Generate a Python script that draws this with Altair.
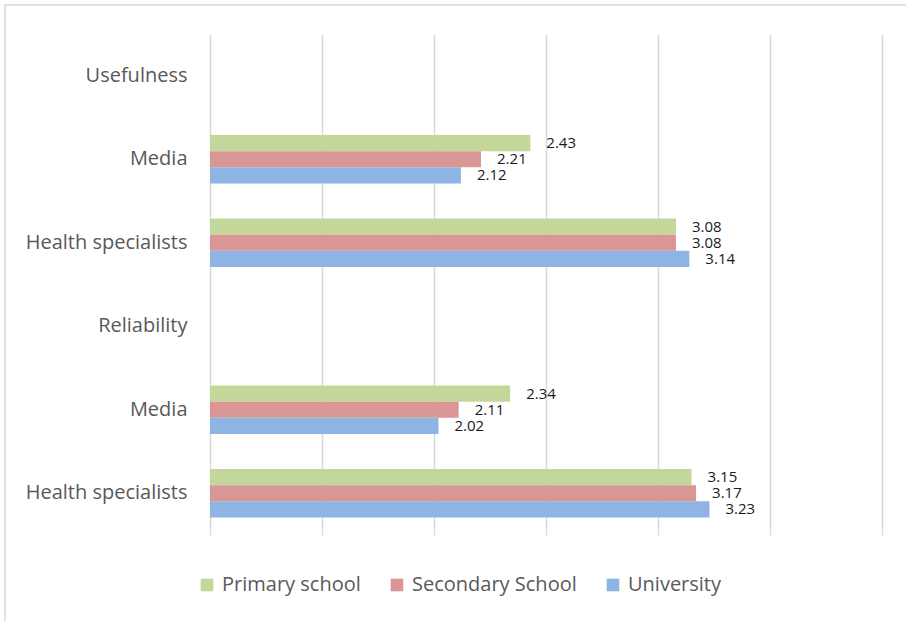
import altair as alt
import pandas as pd

# ---- data ----
row_keys = ["r0", "r1", "r2", "r3", "r4", "r5"]
row_labels = ["Usefulness", "Media", "Health specialists", "Reliability", "Media", "Health specialists"]
bar_rows = ["r1", "r2", "r4", "r5"]
series = ["Primary school", "Secondary School", "University"]
primary = [2.43, 3.08, 2.34, 3.15]
secondary = [2.21, 3.08, 2.11, 3.17]
university = [2.12, 3.14, 2.02, 3.23]
colors = ["#C4D79B", "#D99694", "#8EB4E3"]
grid_values = [1, 1.5, 2, 2.5, 3, 3.5, 4]

records = []
for vals, s in zip([primary, secondary, university], series):
    for r, v in zip(bar_rows, vals):
        records.append({"row": r, "series": s, "value": v})
df = pd.DataFrame(records)

# label expression mapping keys to display labels
expr = "''"
for k, lab in reversed(list(zip(row_keys, row_labels))):
    expr = f"datum.value == '{k}' ? '{lab}' : ({expr})"

FONT = "Open Sans"

y_enc = alt.Y(
    "row:N",
    sort=row_keys,
    scale=alt.Scale(domain=row_keys, paddingInner=0.42, paddingOuter=0.21),
    axis=alt.Axis(
        title=None, labelExpr=expr, domain=False, ticks=False, labelPadding=23,
        labelFontSize=20, labelColor="#595959", labelFont=FONT, grid=False,
        labelLimit=300,
    ),
)
yoff = alt.YOffset("series:N", sort=series, scale=alt.Scale(domain=series))
x_enc = alt.X(
    "value:Q",
    scale=alt.Scale(domain=[1, 4], zero=False, nice=False),
    axis=alt.Axis(
        title=None, values=grid_values, labels=False, ticks=False, domain=False,
        grid=True, gridColor="#d9d9d9", gridWidth=1.5,
    ),
)

base = alt.Chart(df)

bars = base.mark_bar().encode(
    y=y_enc,
    yOffset=yoff,
    x=x_enc,
    x2=alt.datum(1),
    color=alt.Color(
        "series:N",
        sort=series,
        scale=alt.Scale(domain=series, range=colors),
        legend=alt.Legend(
            title=None, orient="none", direction="horizontal", legendX=-13, legendY=541,
            symbolType="square", symbolSize=160, symbolStrokeWidth=0,
            labelFontSize=20, labelColor="#595959", labelFont=FONT, labelLimit=300,
            columnPadding=26, labelOffset=5, padding=0,
        ),
    ),
)

labels = base.mark_text(
    align="left", baseline="middle", dx=16, fontSize=15, font=FONT, color="#1a1a1a"
).encode(
    y=alt.Y("row:N", sort=row_keys),
    yOffset=yoff,
    x=alt.X("value:Q"),
    text=alt.Text("value:Q", format=".2f"),
)

border = alt.Chart(pd.DataFrame({"a": [0]})).mark_rect(
    fill=None, stroke="#d9d9d9", strokeWidth=1.5
).encode(
    x=alt.value(-205), x2=alt.value(720), y=alt.value(-29), y2=alt.value(600)
)

chart = alt.layer(border, bars, labels).properties(
    width=672,
    height=501,
    padding={"left": 210, "top": 34, "right": 24, "bottom": 86},
    autosize=alt.AutoSizeParams(type="none"),
).configure_view(stroke=None)

chart.save("out.html", embed_options={"renderer": "svg", "actions": False})
